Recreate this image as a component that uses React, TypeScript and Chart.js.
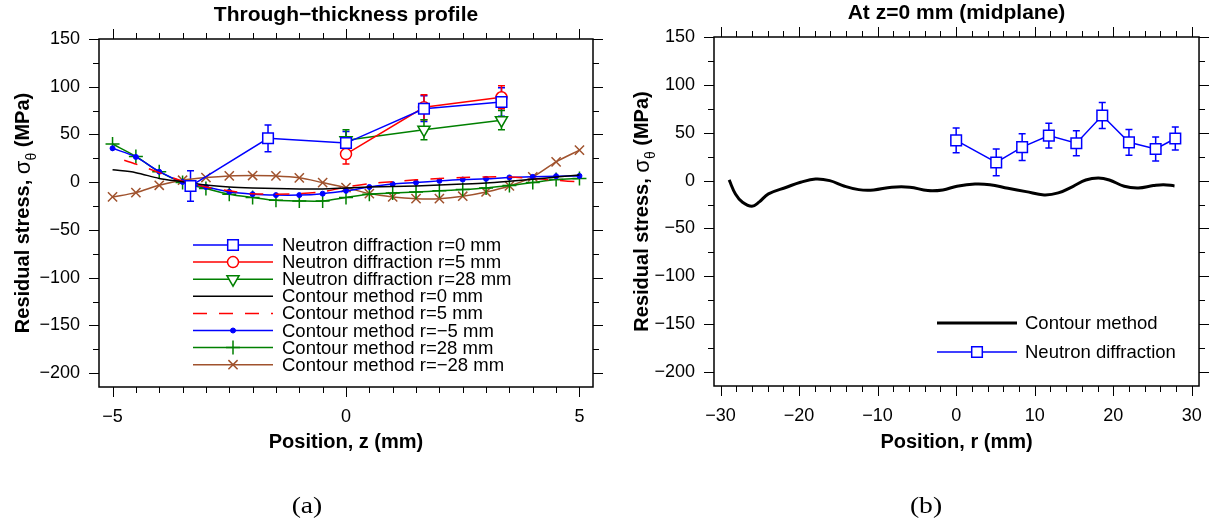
import React, { useEffect, useRef } from 'react';
import { Chart, registerables } from 'chart.js';
import { drawPoint } from 'chart.js/helpers';

Chart.register(...registerables);

const FONT = "'Liberation Sans', Arial, Helvetica, sans-serif";
const BLUE = '#0000ff';
const RED = '#ff0000';
const GREEN = '#008000';
const BROWN = '#a0522d';
const BLACK = '#000000';

// ---------- Panel (a): through-thickness profile ----------
const zPos = [-5, -4.5, -4, -3.5, -3, -2.5, -2, -1.5, -1, -0.5, 0, 0.5, 1, 1.5, 2, 2.5, 3, 3.5, 4, 4.5, 5];
const cmR0 = [13, 10, 4, 0.5, -3, -5, -6, -6.5, -7, -7, -6, -5, -4.5, -4, -3, -2, -0.8, 1, 3, 5.5, 7.5];
const cmR5Pos = [-4.75, -4.5, -4, -3.5, -3, -2.5, -2, -1.5, -1, -0.5, 0, 0.5, 1, 1.5, 2, 2.5, 3, 3.5, 4, 4.5, 5];
const cmR5 = [23, 19, 10, 1, -5, -9, -12, -12.5, -12, -10, -5, -1.5, 0.5, 2.5, 4, 5, 5.5, 5.5, 4, 2, 0.3];
const cmRm5 = [35.5, 26.5, 11, 0.3, -5, -10, -12.5, -13.5, -13.5, -12, -9, -5, -2, -0.4, 1.4, 2.8, 3.5, 5, 5.6, 6.3, 6.6];
const cmR28 = [40, 27, 11, -0.4, -6.7, -12.6, -16, -19, -19.6, -19.6, -16, -12.6, -11.2, -10.2, -9, -7.7, -6, -3.5, -0.4, 2.8, 4];
const cmRm28 = [-15.4, -10.9, -3.2, 2.1, 4.9, 6.6, 7, 6.6, 4.6, -0.4, -5.6, -11.9, -15.4, -17.2, -17.2, -14.7, -10.2, -3.9, 5.6, 21.3, 33.6];
const ndPosR0 = [-3.33, -1.67, 0, 1.67, 3.33];
const ndR0 = [-4, 46, 41, 77, 84];
const ndR0Err = [16, 14, 12, 13.5, 15];
const ndPos = [0, 1.67, 3.33];
const ndR5 = [29.5, 78.5, 89];
const ndR5Err = [10.5, 13, 12];
const ndR28 = [44, 55, 65];
const ndR28Err = [11, 10.5, 10];

// ---------- Panel (b): midplane ----------
const rPosND = [0, 5.1, 8.4, 11.8, 15.3, 18.6, 22, 25.4, 27.9];
const ndMid = [42, 19, 35, 47, 39, 68, 40, 33, 44];
const ndMidErr = [13, 14, 14, 13, 13, 13.5, 13.5, 12.5, 12];
const rPosCM = [-28.9, -28.1, -27.2, -26.0, -25.1, -23.9, -21.6, -19.8, -17.9, -16.1, -14.2, -12.4, -10.5, -8.2, -5.9, -3.6, -1.7, 0.1, 2.4, 4.3, 6.6, 8.9, 11.2, 13.0, 14.9, 16.5, 18.1, 19.5, 21.4, 23.2, 25.1, 26.4, 27.8];
const cmMid = [0.7, -13.9, -22.6, -26.7, -22.5, -13.9, -6.9, -1.7, 1.7, 0, -5.9, -9.4, -9.7, -6.9, -6.9, -10.4, -9.7, -5.9, -3.5, -4.2, -8.0, -11.5, -14.9, -12.8, -5.9, 0.7, 2.8, 0.7, -5.9, -7.6, -5.2, -4.2, -5.5];

// ---------- ticks ----------
const yTicks = [-200, -150, -100, -50, 0, 50, 100, 150];
const yMinor = [-175, -125, -75, -25, 25, 75, 125];
const zTicks = [-5, 0, 5];
const zMinor = [-4.5, -4, -3.5, -3, -2.5, -2, -1.5, -1, -0.5, 0.5, 1, 1.5, 2, 2.5, 3, 3.5, 4, 4.5];
const rTicks = [-30, -20, -10, 0, 10, 20, 30];
const rMinor = [-28, -26, -24, -22, -18, -16, -14, -12, -8, -6, -4, -2, 2, 4, 6, 8, 12, 14, 16, 18, 22, 24, 26, 28];

const pts = (xs: number[], ys: number[]) => xs.map((x, i) => ({ x, y: ys[i] }));
const fmt = (v: number) => String(v).replace('-', '\u2212');

function makeFramePlugin(spec: any) {
  return {
    id: 'frame_' + spec.key,
    beforeDatasetsDraw(chart: any) {
      const ctx = chart.ctx;
      const ys = chart.scales.y;
      chart.data.datasets.forEach((ds: any, i: number) => {
        const errs = ds.errorBars;
        if (!errs) return;
        const meta = chart.getDatasetMeta(i);
        ctx.save();
        ctx.strokeStyle = ds.borderColor;
        ctx.lineWidth = 1.5;
        ds.data.forEach((p: any, j: number) => {
          const x = meta.data[j].x;
          const t = ys.getPixelForValue(p.y + errs[j]);
          const b = ys.getPixelForValue(p.y - errs[j]);
          ctx.beginPath();
          ctx.moveTo(x, t); ctx.lineTo(x, b);
          ctx.moveTo(x - 3.5, t); ctx.lineTo(x + 3.5, t);
          ctx.moveTo(x - 3.5, b); ctx.lineTo(x + 3.5, b);
          ctx.stroke();
        });
        ctx.restore();
      });
    },
    afterDraw(chart: any) {
      const ctx = chart.ctx;
      const { left, right, top, bottom } = chart.chartArea;
      const xs = chart.scales.x;
      const ys = chart.scales.y;
      ctx.save();
      ctx.strokeStyle = BLACK;
      ctx.lineWidth = 1;
      ctx.beginPath();
      const xt = (v: number, len: number) => {
        const p = Math.round(xs.getPixelForValue(v)) + 0.5;
        ctx.moveTo(p, bottom); ctx.lineTo(p, bottom + len);
        ctx.moveTo(p, top); ctx.lineTo(p, top - len);
      };
      const yt = (v: number, len: number) => {
        const p = Math.round(ys.getPixelForValue(v)) + 0.5;
        ctx.moveTo(left, p); ctx.lineTo(left - len, p);
        ctx.moveTo(right, p); ctx.lineTo(right + len, p);
      };
      spec.xMajor.forEach((v: number) => xt(v, 10));
      spec.xMinor.forEach((v: number) => xt(v, 6));
      spec.yMajor.forEach((v: number) => yt(v, 10));
      spec.yMinor.forEach((v: number) => yt(v, 6));
      ctx.stroke();
      ctx.lineWidth = 1.5;
      ctx.strokeRect(left, top, right - left, bottom - top);

      // titles
      ctx.fillStyle = BLACK;
      ctx.textAlign = 'center';
      ctx.textBaseline = 'middle';
      ctx.font = `bold 21px ${FONT}`;
      ctx.fillText(spec.title, (left + right) / 2, spec.titleY);
      ctx.font = `bold 20px ${FONT}`;
      ctx.fillText(spec.xTitle, (left + right) / 2, spec.xTitleY);

      // y title with subscript
      const p1 = 'Residual stress, ';
      const p2 = '\u03c3';
      const p3 = '\u03b8';
      const p4 = ' (MPa)';
      const fB = `bold 20px ${FONT}`;
      const fS = `22px ${FONT}`;
      const fSub = `14px ${FONT}`;
      ctx.font = fB; const w1 = ctx.measureText(p1).width; const w4 = ctx.measureText(p4).width;
      ctx.font = fS; const w2 = ctx.measureText(p2).width;
      ctx.font = fSub; const w3 = ctx.measureText(p3).width;
      const total = w1 + w2 + w3 + w4;
      ctx.translate(spec.yTitleX, (top + bottom) / 2);
      ctx.rotate(-Math.PI / 2);
      ctx.textAlign = 'left';
      ctx.textBaseline = 'middle';
      let cx = -total / 2;
      ctx.font = fB; ctx.fillText(p1, cx, 0); cx += w1;
      ctx.font = fS; ctx.fillText(p2, cx, 1); cx += w2;
      ctx.font = fSub; ctx.fillText(p3, cx, 9); cx += w3;
      ctx.font = fB; ctx.fillText(p4, cx, 0);
      ctx.setTransform(1, 0, 0, 1, 0, 0);
      ctx.restore();

      // legend
      const lg = spec.legend;
      ctx.save();
      chart.data.datasets.forEach((ds: any, i: number) => {
        const y = lg.y0 + i * lg.dy;
        ctx.strokeStyle = ds.borderColor;
        ctx.lineWidth = ds.borderWidth;
        ctx.setLineDash(ds.borderDash || []);
        ctx.beginPath();
        ctx.moveTo(lg.x0, y); ctx.lineTo(lg.x1, y);
        ctx.stroke();
        ctx.setLineDash([]);
        if (ds.pointRadius > 0) {
          ctx.fillStyle = ds.pointBackgroundColor;
          ctx.strokeStyle = ds.pointBorderColor;
          ctx.lineWidth = ds.pointBorderWidth;
          drawPoint(ctx, { pointStyle: ds.pointStyle, radius: ds.pointRadius, rotation: ds.pointRotation || 0, borderWidth: ds.pointBorderWidth } as any, (lg.x0 + lg.x1) / 2, y);
        }
        ctx.fillStyle = BLACK;
        ctx.font = `18.5px ${FONT}`;
        ctx.textAlign = 'left';
        ctx.textBaseline = 'middle';
        ctx.fillText(ds.label, lg.textX, y + 1);
      });
      ctx.restore();
    },
  };
}

function scalesFor(xMin: number, xMax: number, xTicks: number[], xH: number, yW: number) {
  return {
    x: {
      type: 'linear', min: xMin, max: xMax,
      afterFit: (s: any) => { s.height = xH; },
      afterBuildTicks: (s: any) => { s.ticks = xTicks.map((v) => ({ value: v })); },
      grid: { display: false, drawTicks: false },
      border: { display: false },
      ticks: { padding: 19, color: BLACK, font: { family: FONT, size: 18 }, maxRotation: 0, autoSkip: false, callback: (v: any) => fmt(v) },
    },
    y: {
      type: 'linear', min: -214.5, max: 150,
      afterFit: (s: any) => { s.width = yW; },
      afterBuildTicks: (s: any) => { s.ticks = yTicks.map((v) => ({ value: v })); },
      grid: { display: false, drawTicks: false },
      border: { display: false },
      ticks: { padding: 19, color: BLACK, font: { family: FONT, size: 18 }, autoSkip: false, callback: (v: any) => fmt(v) },
    },
  };
}

const baseOptions = {
  responsive: false,
  animation: false,
  events: [],
  plugins: { legend: { display: false }, tooltip: { enabled: false }, title: { display: false } },
};

function leftConfig(): any {
  return {
    type: 'line',
    data: {
      datasets: [
        { label: 'Neutron diffraction r=0 mm', data: pts(ndPosR0, ndR0), errorBars: ndR0Err, borderColor: BLUE, borderWidth: 1.5, pointStyle: 'rect', pointRadius: 7.5, pointBackgroundColor: '#ffffff', pointBorderColor: BLUE, pointBorderWidth: 1.5 },
        { label: 'Neutron diffraction r=5 mm', data: pts(ndPos, ndR5), errorBars: ndR5Err, borderColor: RED, borderWidth: 1.5, pointStyle: 'circle', pointRadius: 5.5, pointBackgroundColor: '#ffffff', pointBorderColor: RED, pointBorderWidth: 1.5 },
        { label: 'Neutron diffraction r=28 mm', data: pts(ndPos, ndR28), errorBars: ndR28Err, borderColor: GREEN, borderWidth: 1.5, pointStyle: 'triangle', pointRotation: 180, pointRadius: 7, pointBackgroundColor: '#ffffff', pointBorderColor: GREEN, pointBorderWidth: 1.5 },
        { label: 'Contour method r=0 mm', data: pts(zPos, cmR0), borderColor: BLACK, borderWidth: 1.5, pointRadius: 0, tension: 0.3 },
        { label: 'Contour method r=5 mm', data: pts(cmR5Pos, cmR5), borderColor: RED, borderWidth: 1.5, borderDash: [14, 12], pointRadius: 0, tension: 0.3 },
        { label: 'Contour method r=\u22125 mm', data: pts(zPos, cmRm5), borderColor: BLUE, borderWidth: 1.5, pointStyle: 'circle', pointRadius: 2.5, pointBackgroundColor: BLUE, pointBorderColor: BLUE, pointBorderWidth: 1, tension: 0.3 },
        { label: 'Contour method r=28 mm', data: pts(zPos, cmR28), borderColor: GREEN, borderWidth: 1.5, pointStyle: 'cross', pointRadius: 7, pointBackgroundColor: GREEN, pointBorderColor: GREEN, pointBorderWidth: 1.5, tension: 0.3 },
        { label: 'Contour method r=\u221228 mm', data: pts(zPos, cmRm28), borderColor: BROWN, borderWidth: 1.5, pointStyle: 'crossRot', pointRadius: 6.5, pointBackgroundColor: BROWN, pointBorderColor: BROWN, pointBorderWidth: 1.5, tension: 0.3 },
      ],
    },
    options: {
      ...baseOptions,
      layout: { padding: { left: 0, top: 39, right: 17, bottom: 0 } },
      scales: scalesFor(-5.29, 5.29, zTicks, 139, 99),
    },
    plugins: [makeFramePlugin({
      key: 'a', title: 'Through\u2212thickness profile', titleY: 15, xTitle: 'Position, z (mm)', xTitleY: 442, yTitleX: 23,
      xMajor: zTicks, xMinor: zMinor, yMajor: yTicks, yMinor: yMinor,
      legend: { x0: 193, x1: 273, textX: 282, y0: 245, dy: 17.1 },
    })],
  };
}

function rightConfig(): any {
  return {
    type: 'line',
    data: {
      datasets: [
        { label: 'Contour method', data: pts(rPosCM, cmMid), borderColor: BLACK, borderWidth: 3, pointRadius: 0, tension: 0.4 },
        { label: 'Neutron diffraction', data: pts(rPosND, ndMid), errorBars: ndMidErr, borderColor: BLUE, borderWidth: 1.5, pointStyle: 'rect', pointRadius: 7.5, pointBackgroundColor: '#ffffff', pointBorderColor: BLUE, pointBorderWidth: 1.5 },
      ],
    },
    options: {
      ...baseOptions,
      layout: { padding: { left: 0, top: 37, right: 13, bottom: 0 } },
      scales: scalesFor(-30.83, 30.92, rTicks, 140, 104),
    },
    plugins: [makeFramePlugin({
      key: 'b', title: 'At z=0 mm (midplane)', titleY: 13, xTitle: 'Position, r (mm)', xTitleY: 442, yTitleX: 32,
      xMajor: rTicks, xMinor: rMinor, yMajor: yTicks, yMinor: yMinor,
      legend: { x0: 327, x1: 407, textX: 415, y0: 323, dy: 29 },
    })],
  };
}

function Panel({ make, left, width }: { make: () => any; left: number; width: number }) {
  const ref = useRef<HTMLCanvasElement>(null);
  useEffect(() => {
    const chart = new Chart(ref.current as HTMLCanvasElement, make());
    return () => chart.destroy();
  }, []);
  return (
    <canvas ref={ref} width={width} height={526}
      style={{ position: 'absolute', left, top: 0, width, height: 526 }} />
  );
}

const capStyle: React.CSSProperties = {
  position: 'absolute', top: 506, transform: 'translate(-50%, -50%) scaleX(1.2)',
  fontFamily: "'Liberation Serif', 'DejaVu Serif', serif", fontSize: 23, color: '#000', whiteSpace: 'nowrap',
};

export default function App() {
  return (
    <div style={{ position: 'absolute', left: 0, top: 0, width: 1221, height: 526, background: '#ffffff', overflow: 'hidden' }}>
      <Panel make={leftConfig} left={0} width={610} />
      <Panel make={rightConfig} left={610} width={611} />
      <div style={{ ...capStyle, left: 307 }}>(a)</div>
      <div style={{ ...capStyle, left: 926 }}>(b)</div>
    </div>
  );
}
